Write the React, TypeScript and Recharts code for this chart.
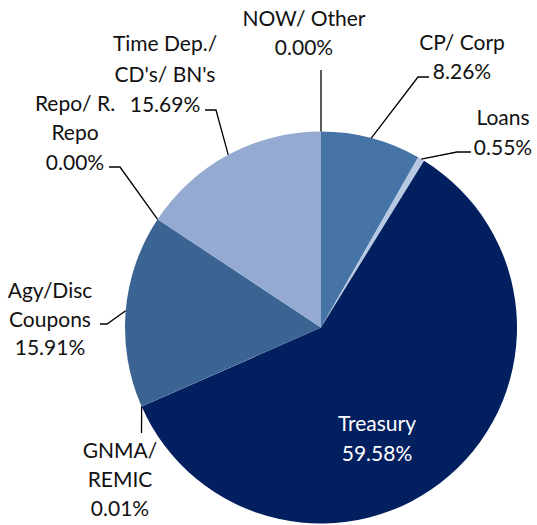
import { PieChart, Pie, Cell } from 'recharts';

// slice order runs clockwise from 12 o'clock
const categories = [
  'CP/ Corp',
  'Loans',
  'Treasury',
  'GNMA/\nREMIC',
  'Agy/Disc\nCoupons',
  'Repo/ R.\nRepo',
  "Time Dep./\nCD's/ BN's",
  'NOW/ Other',
];
const shares = [8.26, 0.55, 59.58, 0.01, 15.91, 0.0, 15.69, 0.0];
const colors = ['#4674A7', '#B7C9E2', '#02205F', '#7F9AC8', '#3B6493', '#5F82B8', '#94AAD0', '#2F5597'];

const data = categories.map((name, i) => ({ name, value: shares[i] }));

const RADIAN = Math.PI / 180;
const CX = 321;
const CY = 327.5;
const R = 196;

// where each label sits, and the bend points of its leader line
const labelLayout: Record<string, { x: number; ys: number[]; leader?: number[][]; light?: boolean }> = {
  'CP/ Corp': { x: 462, ys: [42, 71], leader: [[418, 77], [429, 77]] },
  Loans: { x: 503, ys: [117, 147], leader: [[457, 152], [471, 152]] },
  Treasury: { x: 377, ys: [423, 453], light: true },
  'GNMA/\nREMIC': { x: 120, ys: [450, 479, 508], leader: [[141.5, 433]] },
  'Agy/Disc\nCoupons': { x: 50, ys: [290, 319, 347], leader: [[107, 324], [100, 324]] },
  'Repo/ R.\nRepo': { x: 75, ys: [103, 132, 162], leader: [[120, 167], [109, 167]] },
  "Time Dep./\nCD's/ BN's": { x: 165, ys: [43, 74, 104], leader: [[216, 110], [205, 110]] },
  'NOW/ Other': { x: 304, ys: [18, 47], leader: [[321, 70]] },
};

function renderLabel(props: any) {
  const { cx, cy, midAngle, outerRadius, name, value } = props;
  const layout = labelLayout[name];
  if (!layout) return null;
  const sx = cx + outerRadius * Math.cos(-midAngle * RADIAN);
  const sy = cy + outerRadius * Math.sin(-midAngle * RADIAN);
  const lines = [...String(name).split('\n'), `${Number(value).toFixed(2)}%`];
  let d = '';
  if (layout.leader) {
    d = `M${sx},${sy}` + layout.leader.map((p) => ` L${p[0]},${p[1]}`).join('');
  }
  return (
    <g key={name}>
      {d && <path d={d} stroke="#000" strokeWidth={1.3} fill="none" />}
      {lines.map((t, i) => (
        <text
          key={i}
          x={layout.x}
          y={layout.ys[i] + 7.5}
          textAnchor="middle"
          fill={layout.light ? '#ffffff' : '#111111'}
          fontSize={21}
          fontFamily="Lato, sans-serif"
        >
          {t}
        </text>
      ))}
    </g>
  );
}

export default function App() {
  return (
    <div style={{ position: 'absolute', left: 0, top: 0, background: '#fff' }}>
      <PieChart width={537} height={525} margin={{ top: 0, right: 0, bottom: 0, left: 0 }}>
        <Pie
          data={data}
          dataKey="value"
          nameKey="name"
          cx={CX}
          cy={CY}
          outerRadius={R}
          startAngle={90}
          endAngle={-270}
          stroke="none"
          label={renderLabel}
          labelLine={false}
          isAnimationActive={false}
        >
          {data.map((d, i) => (
            <Cell key={d.name} fill={colors[i]} />
          ))}
        </Pie>
      </PieChart>
    </div>
  );
}
